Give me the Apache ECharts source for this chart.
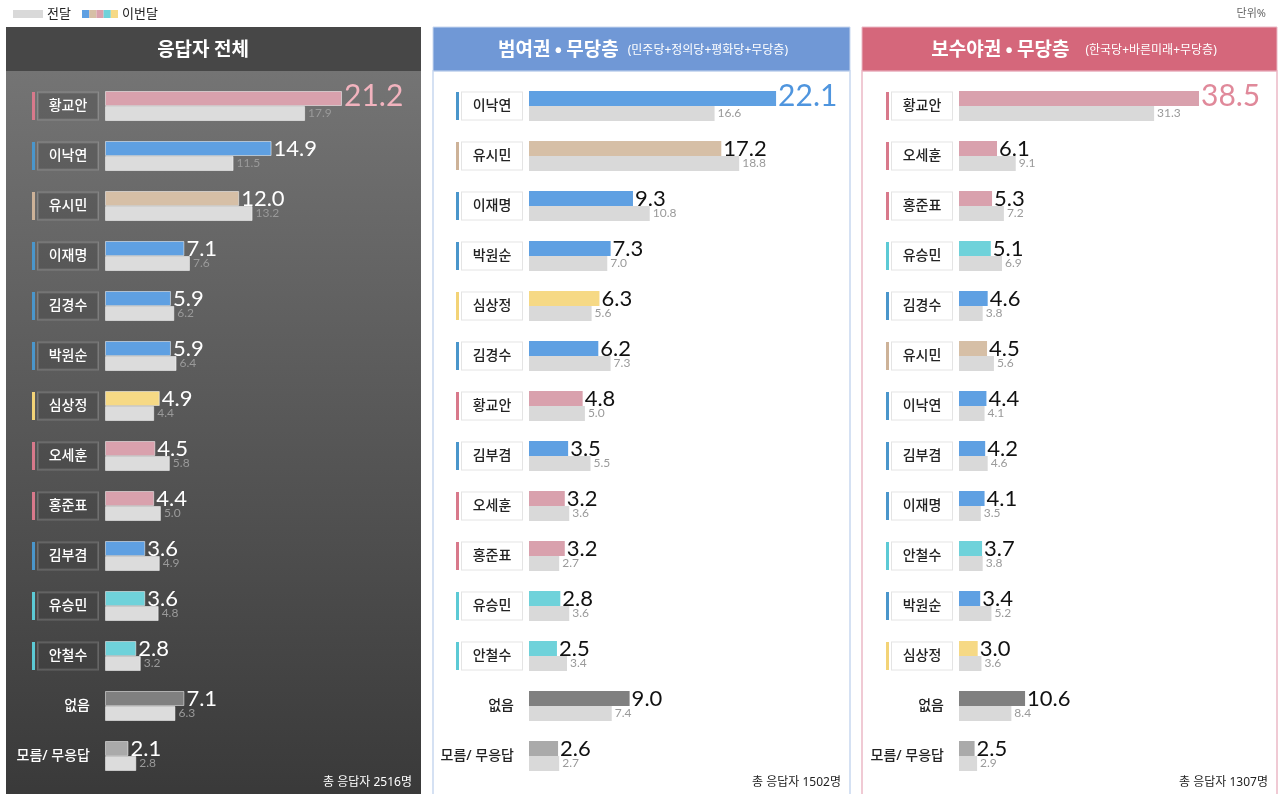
<!DOCTYPE html>
<html><head><meta charset="utf-8">
<script src="https://cdn.jsdelivr.net/npm/echarts@6/dist/echarts.min.js"></script>
<style>html,body{margin:0;padding:0;background:#fff;}#c{width:1279px;height:794px;}</style>
</head><body><div id="c"></div>
<script>
// ---- data ----
const names1 = ['황교안','이낙연','유시민','이재명','김경수','박원순','심상정','오세훈','홍준표','김부겸','유승민','안철수','없음','모름/ 무응답'];
const cur1   = [21.2,14.9,12.0,7.1,5.9,5.9,4.9,4.5,4.4,3.6,3.6,2.8,7.1,2.1];
const prev1  = [17.9,11.5,13.2,7.6,6.2,6.4,4.4,5.8,5.0,4.9,4.8,3.2,6.3,2.8];

const names2 = ['이낙연','유시민','이재명','박원순','심상정','김경수','황교안','김부겸','오세훈','홍준표','유승민','안철수','없음','모름/ 무응답'];
const cur2   = [22.1,17.2,9.3,7.3,6.3,6.2,4.8,3.5,3.2,3.2,2.8,2.5,9.0,2.6];
const prev2  = [16.6,18.8,10.8,7.0,5.6,7.3,5.0,5.5,3.6,2.7,3.6,3.4,7.4,2.7];

const names3 = ['황교안','오세훈','홍준표','유승민','김경수','유시민','이낙연','김부겸','이재명','안철수','박원순','심상정','없음','모름/ 무응답'];
const cur3   = [38.5,6.1,5.3,5.1,4.6,4.5,4.4,4.2,4.1,3.7,3.4,3.0,10.6,2.5];
const prev3  = [31.3,9.1,7.2,6.9,3.8,5.6,4.1,4.6,3.5,3.8,5.2,3.6,8.4,2.9];

const titles = ['응답자 전체','범여권 • 무당층','보수야권 • 무당층'];
const subtitles = ['','(민주당+정의당+평화당+무당층)','(한국당+바른미래+무당층)'];
const totals = ['총 응답자 2516명','총 응답자 1502명','총 응답자 1307명'];
const legendNames = ['전달','이번달'];
const unitText = '단위%';

// ---- styles ----
const group = {
  '황교안':'pink','오세훈':'pink','홍준표':'pink',
  '이낙연':'blue','이재명':'blue','김경수':'blue','박원순':'blue','김부겸':'blue',
  '유시민':'tan','유승민':'cyan','안철수':'cyan','심상정':'yellow',
  '없음':'none','모름/ 무응답':'dk'
};
const barCol = {pink:'#d9a1ad',blue:'#5fa0e2',tan:'#d6bfa6',cyan:'#6fd2da',yellow:'#f6d985',none:'#808080',dk:'#aaaaaa'};
const stripeCol = {pink:'#d8798b',blue:'#4a96cb',tan:'#cdb298',cyan:'#5ccad5',yellow:'#f3d377'};
const NUMFONT = 'Lato, "Noto Sans", sans-serif';
const KFONT = '"Noto Sans", "Noto Sans CJK KR", sans-serif';
const TFONT = '"Noto Sans CJK KR", sans-serif';

const panels = [
  {x:6, w:415, left:105, max:25, width:279.5, dark:true, head:'#474747', border:null, topCol:'#f2b3be', tx:203, gap:0},
  {x:433, w:417, left:529, max:25, width:279.5, dark:false, head:'#7098d6', border:'#c8d7ef', topCol:'#4f95de', tx:643, gap:9},
  {x:862, w:415, left:959, max:45, width:280.5, dark:false, head:'#d5677b', border:'#ebb9c6', topCol:'#e0899a', tx:1074, gap:16}
];
const namesAll = [names1,names2,names3], curAll=[cur1,cur2,cur3], prevAll=[prev1,prev2,prev3];

const grids=[], xAxes=[], yAxes=[], series=[], graphic=[];

panels.forEach((p,i)=>{
  // backgrounds
  graphic.push({type:'rect', z:0, shape:{x:p.x, y:71, width:p.w, height:730},
    style: p.dark ? {fill:new echarts.graphic.LinearGradient(0,0,0,1,[{offset:0,color:'#747474'},{offset:1,color:'#393939'}])}
                  : {fill:'#fff', stroke:p.border, lineWidth:1.5}});
  graphic.push({type:'rect', z:0, shape:{x:p.x, y:27, width:p.w, height:44}, style:{fill:p.head, stroke: p.dark?null:p.border, lineWidth:1}});
  graphic.push({type:'text', z:1, x:p.tx, y:49,
    style:{text: subtitles[i] ? `{t|${titles[i]}}{s|${subtitles[i]}}` : `{t|${titles[i]}}`,
      align:'center', verticalAlign:'middle',
      rich:{t:{fontSize:19, fontWeight:'bold', fill:'#fff', fontFamily:TFONT},
            s:{fontSize:12, fill:'#fff', fontFamily:KFONT, padding:[3,0,0,p.gap]}}}});
  graphic.push({type:'text', z:1, x:p.x+p.w-9, y:783,
    style:{text:totals[i], align:'right', verticalAlign:'middle', fontSize:12, fontFamily:KFONT, fill:p.dark?'#fff':'#222'}});

  grids.push({left:p.left, top:81, width:p.width, height:700});
  xAxes.push({type:'value', gridIndex:i, min:0, max:p.max, show:false});

  const rich = {
    box:{width:60, height:27, align:'center', fontSize:14, fontFamily:KFONT, fontWeight:500,
         color:p.dark?'#fff':'#222',
         backgroundColor:p.dark?'rgba(60,60,60,0.3)':'#fff',
         borderColor:p.dark?'rgba(255,255,255,0.18)':'#e4e4e4', borderWidth:1},
    g:{width:3},
    plain:{fontSize:14, fontFamily:KFONT, fontWeight:500, color:p.dark?'#fff':'#222', padding:[0,8,0,0]}
  };
  Object.keys(stripeCol).forEach(k=>{ rich['s_'+k] = {width:3, height:28, backgroundColor:stripeCol[k]}; });

  yAxes.push({type:'category', gridIndex:i, inverse:true, data:namesAll[i],
    axisLine:{show:false}, axisTick:{show:false}, splitLine:{show:false},
    axisLabel:{margin:7, align:'right', rich,
      formatter:(v)=>{ const g=group[v]; return stripeCol[g] ? `{s_${g}|}{g|}{box|${v}}` : `{plain|${v}}`; }}});

  const border = p.dark ? {borderColor:'rgba(255,255,255,0.5)', borderWidth:1} : {};
  series.push({type:'bar', name:'이번달', xAxisIndex:i, yAxisIndex:i, barWidth:15, barGap:'0%', z:3,
    data: curAll[i].map((v,j)=>{
      const item = {value:v, itemStyle:Object.assign({color:barCol[group[namesAll[i][j]]]}, border)};
      if(j===0) item.label = {fontSize:30, color:p.topCol, offset:[0,-2]};
      return item;
    }),
    label:{show:true, position:'right', distance:2, fontSize:22, fontFamily:NUMFONT,
      color:p.dark?'#fff':'#111', formatter:(d)=>d.value.toFixed(1)}});
  series.push({type:'bar', name:'전달', xAxisIndex:i, yAxisIndex:i, barWidth:15, barGap:'0%', z:3,
    itemStyle:Object.assign({color:p.dark?'#dcdcdc':'#d9d9d9'}, border),
    data: prevAll[i],
    label:{show:true, position:'right', distance:3, fontSize:12, fontFamily:NUMFONT,
      color:'#9a9a9a', formatter:(d)=>d.value.toFixed(1)}});
});

// legend (top)
graphic.push({type:'rect', shape:{x:13, y:10, width:30, height:8}, style:{fill:'#d9d9d9'}});
graphic.push({type:'text', x:47, y:14, style:{text:legendNames[0], fontSize:13, fontFamily:KFONT, fill:'#222', verticalAlign:'middle'}});
['#5fa0e2','#d6bfa6','#d9a1ad','#6fd2da','#f6d985'].forEach((c,k)=>{
  graphic.push({type:'rect', shape:{x:82+k*7.2, y:10, width:7.2, height:8}, style:{fill:c}});
});
graphic.push({type:'text', x:122, y:14, style:{text:legendNames[1], fontSize:13, fontFamily:KFONT, fill:'#222', verticalAlign:'middle'}});
graphic.push({type:'text', x:1266, y:14, style:{text:unitText, fontSize:11, fontFamily:KFONT, fill:'#666', align:'right', verticalAlign:'middle'}});

const chart = echarts.init(document.getElementById('c'), null, {renderer:'canvas'});
chart.setOption({animation:false, backgroundColor:'#fff', grid:grids, xAxis:xAxes, yAxis:yAxes, series, graphic});
</script></body></html>
